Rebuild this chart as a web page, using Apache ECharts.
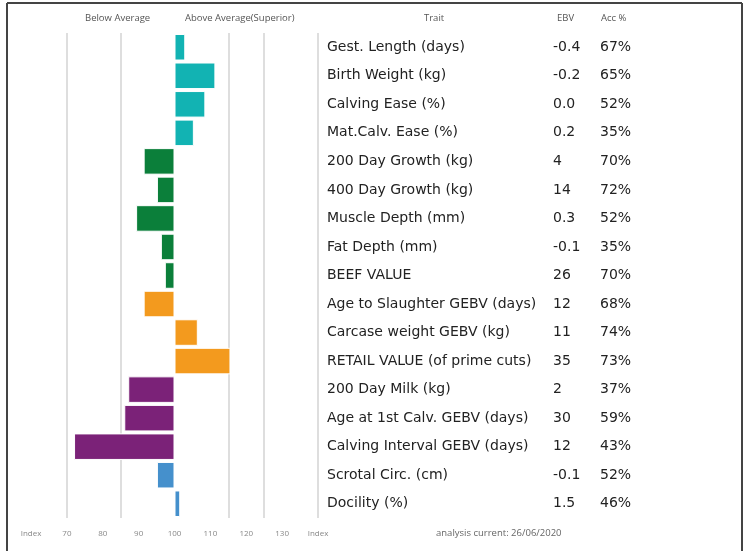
<!DOCTYPE html>
<html><head><meta charset="utf-8">
<script src="https://cdn.jsdelivr.net/npm/echarts@6/dist/echarts.min.js"></script>
<style>html,body{margin:0;padding:0;background:#fff}#c{width:745px;height:551px}</style>
</head><body><div id="c"></div>
<script>
const traits = ["Gest. Length (days)","Birth Weight (kg)","Calving Ease (%)","Mat.Calv. Ease (%)","200 Day Growth (kg)","400 Day Growth (kg)","Muscle Depth (mm)","Fat Depth (mm)","BEEF VALUE","Age to Slaughter GEBV (days)","Carcase weight GEBV (kg)","RETAIL VALUE (of prime cuts)","200 Day Milk (kg)","Age at 1st Calv. GEBV (days)","Calving Interval GEBV (days)","Scrotal Circ. (cm)","Docility (%)"];
const ebv = ["-0.4","-0.2","0.0","0.2","4","14","0.3","-0.1","26","12","11","35","2","30","12","-0.1","1.5"];
const acc = ["67%","65%","52%","35%","70%","72%","52%","35%","70%","68%","74%","73%","37%","59%","43%","52%","46%"];
const indexValues = [103,111.4,108.6,105.4,91.4,95.1,89.3,96.2,97.3,91.4,106.5,115.6,87.1,86,72,95.1,101.6];
const groupOfRow = [0,0,0,0,1,1,1,1,1,2,2,2,3,3,3,4,4];
const gridValues = [70,85,115,125,140];
const tickLabels = {60:"Index",70:"70",80:"80",90:"90",100:"100",110:"110",120:"120",130:"130",140:"Index"};
const groupColors = ["#12b3b3","#0b7f3a","#f39a1e","#7b2278","#4590cc"];
const FONT = "DejaVu Sans";
const SMALL = "Open Sans";

const chart = echarts.init(document.getElementById('c'), null, {renderer:'canvas'});
chart.setOption({
  animation:false,
  grid:{left:31,right:427,top:33,bottom:33},
  xAxis:{type:'value',min:-40,max:40,interval:10,
    axisLine:{show:false},axisTick:{show:false},splitLine:{show:false},
    axisLabel:{show:true,margin:12,color:'#888',fontSize:8,fontFamily:SMALL,
      formatter:v=>tickLabels[v+100]||''}},
  yAxis:[
    {type:'category',data:traits,inverse:true,position:'right',offset:0,
     axisLine:{show:false},axisTick:{show:false},splitLine:{show:false},
     axisLabel:{margin:9,align:'left',color:'#222',fontSize:14,fontFamily:FONT}},
    {type:'category',data:traits,inverse:true,position:'right',offset:226,
     axisLine:{show:false},axisTick:{show:false},
     axisLabel:{margin:9,align:'left',color:'#222',fontSize:14,fontFamily:FONT,
       formatter:(v,i)=>ebv[i]}},
    {type:'category',data:traits,inverse:true,position:'right',offset:273,
     axisLine:{show:false},axisTick:{show:false},
     axisLabel:{margin:9,align:'left',color:'#222',fontSize:14,fontFamily:FONT,
       formatter:(v,i)=>acc[i]}}
  ],
  series:[{
    type:'bar',yAxisIndex:0,barWidth:'93%',
    data:indexValues.map((v,i)=>({value:+(v-100).toFixed(2),
      itemStyle:{color:groupColors[groupOfRow[i]],borderColor:'#fff',borderWidth:1}})),
    markLine:{silent:true,symbol:'none',z:0,label:{show:false},
      lineStyle:{color:'#dedede',width:2,type:'solid'},
      data:gridValues.map(v=>({xAxis:v-100}))}
  }],
  graphic:[
    {type:'text',left:85,top:13,style:{text:'Below Average',fill:'#555',font:'9.5px "'+SMALL+'"'}},
    {type:'text',left:185,top:13,style:{text:'Above Average(Superior)',fill:'#555',font:'9.5px "'+SMALL+'"'}},
    {type:'text',left:424,top:13,style:{text:'Trait',fill:'#555',font:'9.5px "'+SMALL+'"'}},
    {type:'text',left:557,top:13,style:{text:'EBV',fill:'#555',font:'9.5px "'+SMALL+'"'}},
    {type:'text',left:601,top:13,style:{text:'Acc %',fill:'#555',font:'9.5px "'+SMALL+'"'}},
    {type:'text',left:436,top:528,style:{text:'analysis current: 26/06/2020',fill:'#666',font:'9.5px "'+SMALL+'"'}},
    {type:'line',shape:{x1:7,y1:3,x2:742,y2:3},style:{stroke:'#444',lineWidth:2}},
    {type:'line',shape:{x1:7,y1:3,x2:7,y2:551},style:{stroke:'#444',lineWidth:2}},
    {type:'line',shape:{x1:742,y1:3,x2:742,y2:551},style:{stroke:'#444',lineWidth:2}}
  ]
});
</script></body></html>
